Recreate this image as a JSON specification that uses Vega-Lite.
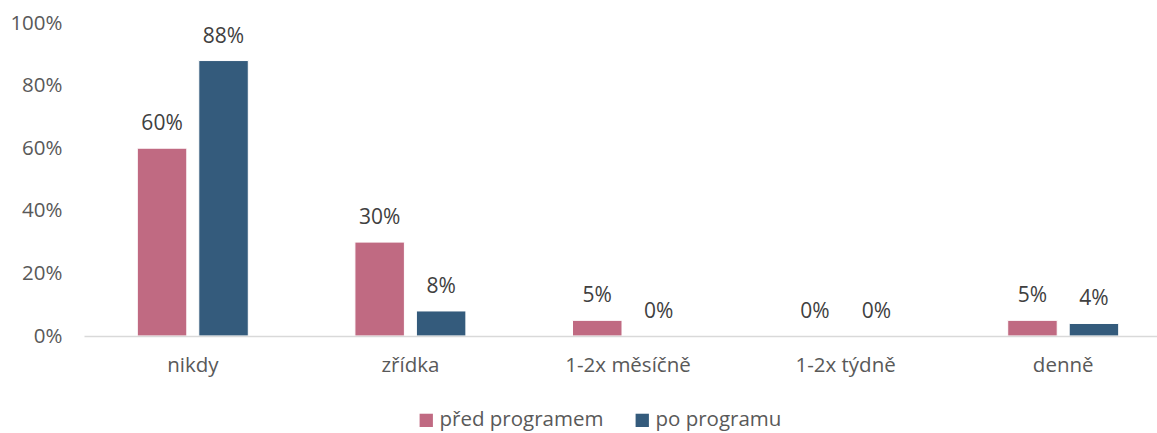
{
  "$schema": "https://vega.github.io/schema/vega-lite/v6.json",
  "width": 1073,
  "height": 313,
  "autosize": "none",
  "padding": {"left": 84, "top": 23, "right": 0, "bottom": 97},
  "background": "white",
  "config": {
    "view": {"stroke": null},
    "font": "Open Sans",
    "text": {"font": "Open Sans"}
  },
  "data": {
    "values": [
      {"kat": "nikdy", "serie": "před programem", "hodnota": 0.60},
      {"kat": "nikdy", "serie": "po programu", "hodnota": 0.88},
      {"kat": "zřídka", "serie": "před programem", "hodnota": 0.30},
      {"kat": "zřídka", "serie": "po programu", "hodnota": 0.08},
      {"kat": "1-2x měsíčně", "serie": "před programem", "hodnota": 0.05},
      {"kat": "1-2x měsíčně", "serie": "po programu", "hodnota": 0.0},
      {"kat": "1-2x týdně", "serie": "před programem", "hodnota": 0.0},
      {"kat": "1-2x týdně", "serie": "po programu", "hodnota": 0.0},
      {"kat": "denně", "serie": "před programem", "hodnota": 0.05},
      {"kat": "denně", "serie": "po programu", "hodnota": 0.04}
    ]
  },
  "encoding": {
    "x": {
      "field": "kat", "type": "nominal", "sort": null, "title": null,
      "scale": {"range": [0, 1088], "paddingInner": 0.49, "paddingOuter": 0.245},
      "axis": {
        "labelAngle": 0, "labelFontSize": 20.5, "labelColor": "#595959",
        "labelPadding": 19, "ticks": false, "domainColor": "#d9d9d9",
        "domainWidth": 1.5, "grid": false, "zindex": 1
      }
    },
    "xOffset": {
      "field": "serie", "type": "nominal", "sort": ["před programem", "po programu"],
      "scale": {"paddingInner": 0.195, "paddingOuter": 0}
    },
    "y": {
      "field": "hodnota", "type": "quantitative", "title": null,
      "scale": {"domain": [0, 1]},
      "axis": {
        "format": ".0%", "values": [0, 0.2, 0.4, 0.6, 0.8, 1],
        "labelFontSize": 20.5, "labelColor": "#595959", "labelPadding": 22,
        "ticks": false, "domain": false, "grid": false
      }
    }
  },
  "layer": [
    {
      "mark": {"type": "bar", "stroke": "white", "strokeWidth": 1},
      "encoding": {
        "color": {
          "field": "serie", "type": "nominal", "sort": ["před programem", "po programu"],
          "scale": {"domain": ["před programem", "po programu"], "range": ["#C06A82", "#345B7C"]},
          "legend": {
            "title": null, "orient": "none", "direction": "horizontal",
            "legendX": 332, "legendY": 387,
            "symbolType": "square", "symbolSize": 177, "symbolStrokeWidth": 0,
            "labelFontSize": 20.5, "labelColor": "#595959", "labelOffset": 3,
            "labelLimit": 400, "columnPadding": 28
          }
        }
      }
    },
    {
      "mark": {"type": "text", "baseline": "alphabetic", "dy": -18, "fontSize": 21, "color": "#404040"},
      "encoding": {
        "text": {"field": "hodnota", "type": "quantitative", "format": ".0%"}
      }
    }
  ]
}
